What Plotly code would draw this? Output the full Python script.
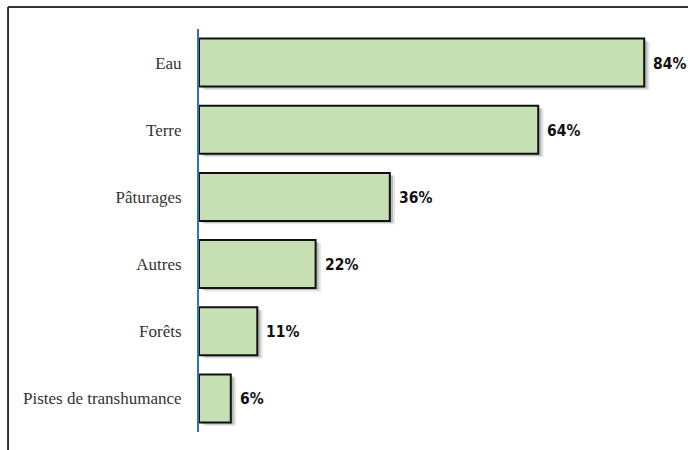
import plotly.graph_objects as go

# Share of respondents citing each resource
categories = ["Eau", "Terre", "Pâturages", "Autres", "Forêts", "Pistes de transhumance"]
values = [84, 64, 36, 22, 11, 6]
value_labels = ["84%", "64%", "36%", "22%", "11%", "6%"]

fig = go.Figure()

# soft drop shadow behind each bar
for dx, alpha in [(1.0, 0.10), (0.6, 0.18)]:
    fig.add_trace(go.Bar(
        y=categories, x=values, base=[dx] * len(values),
        orientation="h", width=0.715, offset=-0.3575 + dx * 0.05,
        marker=dict(color=f"rgba(0,0,0,{alpha})", line=dict(width=0)),
        hoverinfo="skip", showlegend=False,
    ))

fig.add_trace(go.Bar(
    y=categories, x=values, orientation="h", width=0.715,
    marker=dict(color="#C6E0B4", line=dict(color="#111111", width=2)),
    showlegend=False,
))

for cat, v, lab in zip(categories, values, value_labels):
    fig.add_annotation(
        x=v, y=cat, text=f"<b>{lab}</b>", showarrow=False,
        xanchor="left", xshift=7, yshift=-1,
        font=dict(family="DejaVu Sans Condensed, sans-serif", size=15.5, color="#111111"),
    )

# frame lines along the top and left
fig.add_shape(type="line", xref="paper", yref="paper", x0=-0.397, x1=1.05, y0=1.0546, y1=1.0546,
              line=dict(color="#333333", width=2))
fig.add_shape(type="line", xref="paper", yref="paper", x0=-0.397, x1=-0.397, y0=-0.1, y1=1.0546,
              line=dict(color="#333333", width=2))

fig.update_layout(
    width=688, height=450,
    margin=dict(l=199, r=8, t=29, b=18),
    paper_bgcolor="white", plot_bgcolor="white",
    barmode="overlay",
    xaxis=dict(range=[0, 90.75], visible=False, fixedrange=True),
    yaxis=dict(
        categoryorder="array", categoryarray=categories, autorange="reversed",
        showline=True, linecolor="#2E75B6", linewidth=2,
        showgrid=False, zeroline=False, ticks="", ticklabelstandoff=12,
        tickfont=dict(family="Liberation Serif, DejaVu Serif, serif", size=17, color="#333333"),
    ),
)

fig.write_html("out.html")
